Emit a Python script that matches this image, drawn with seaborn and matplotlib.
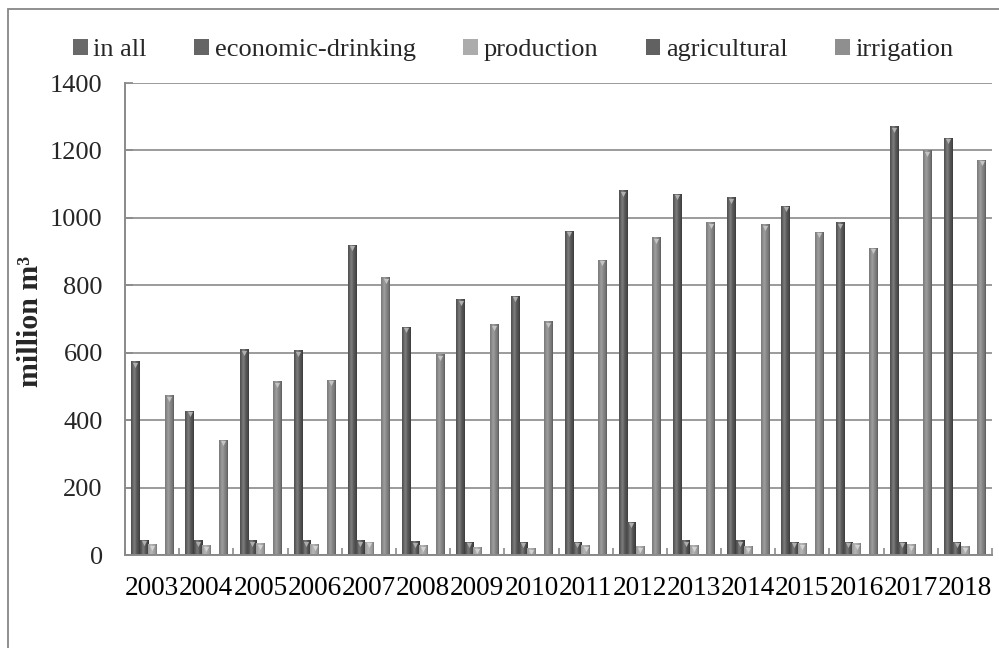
import numpy as np
import pandas as pd
import matplotlib
matplotlib.use("Agg")
import matplotlib.pyplot as plt
from matplotlib.patches import Patch, Rectangle
from matplotlib.colors import to_rgb
from matplotlib.ticker import FixedLocator
import seaborn as sns

# ---- data (million m3 per year) ----
years = ["2003", "2004", "2005", "2006", "2007", "2008", "2009", "2010",
         "2011", "2012", "2013", "2014", "2015", "2016", "2017", "2018"]
in_all = [574, 427, 609, 606, 919, 675, 757, 767, 960, 1080, 1070, 1060, 1035, 986, 1271, 1236]
economic_drinking = [44, 42, 42, 42, 42, 39, 38, 38, 38, 97, 42, 42, 38, 38, 38, 38]
production = [30, 27, 34, 30, 38, 27, 21, 19, 28, 24, 27, 25, 34, 34, 30, 25]
agricultural = [2, 2, 2, 2, 2, 2, 2, 2, 2, 2, 2, 2, 2, 2, 2, 2]
irrigation = [472, 340, 514, 518, 822, 594, 683, 692, 874, 941, 986, 980, 958, 910, 1199, 1171]

series_names = ["in all", "economic-drinking", "production", "agricultural", "irrigation"]
series_values = [in_all, economic_drinking, production, agricultural, irrigation]
y_ticks = [0, 200, 400, 600, 800, 1000, 1200, 1400]

colors = {
    "in all": "#4f4f4f",
    "economic-drinking": "#4a4a4a",
    "production": "#9d9d9d",
    "agricultural": "#454545",
    "irrigation": "#7b7b7b",
}

df = pd.DataFrame({
    "year": np.repeat([years], len(series_names), axis=0).ravel(),
    "series": np.repeat(series_names, len(years)),
    "value": np.concatenate([np.asarray(v, dtype=float) for v in series_values]),
})

sns.set_theme(style="white")
plt.rcParams["font.family"] = ["Liberation Serif", "DejaVu Serif"]
plt.rcParams["font.size"] = 19

W, H = 999, 648
fig = plt.figure(figsize=(W / 100, H / 100), dpi=100)
ax = fig.add_axes([125 / W, 1 - 555 / H, (992 - 125) / W, (555 - 83) / H])

sns.barplot(data=df, x="year", y="value", hue="series", hue_order=series_names,
            order=years, palette=colors, width=0.77, gap=0, saturation=1,
            errorbar=None, linewidth=0, legend=False, ax=ax)


def lighten(base, k):
    return np.clip(base + (1 - base) * k, 0, 1)


# cylinder-like shading on every bar
prof_x = np.linspace(0, 1, 40)
shade = 0.55 * np.exp(-((prof_x - 0.38) / 0.22) ** 2) - 0.25 * (prof_x > 0.8) * (prof_x - 0.8) / 0.2
bars = [p for p in ax.patches if p.get_height() > 0]
for p in bars:
    x0, w, h = p.get_x(), p.get_width(), p.get_height()
    base = np.array(to_rgb(p.get_facecolor()))
    cols = [lighten(base, s * 0.45) if s >= 0 else base * (1 + s) for s in shade]
    img = np.clip(np.array(cols), 0, 1)[None, :, :]
    ax.imshow(img, extent=[x0, x0 + w, 0, h], aspect="auto",
              interpolation="bilinear", zorder=p.get_zorder() + 0.1)
    if h > 15:
        ax.scatter([x0 + w / 2], [h - 9], marker="v", s=14,
                   color=lighten(base, 0.55), linewidths=0,
                   zorder=p.get_zorder() + 0.2)

ax.set_xlim(-0.5, len(years) - 0.5)
ax.set_ylim(0, 1400)
ax.set_yticks(y_ticks)
ax.set_yticklabels([str(t) for t in y_ticks])

grid_col = "#8a8a8a"
ax.yaxis.grid(True, color=grid_col, linewidth=1.2)
ax.xaxis.grid(False)
ax.set_axisbelow(True)
for side in ["top", "right"]:
    ax.spines[side].set_visible(False)
for side in ["left", "bottom"]:
    ax.spines[side].set_color(grid_col)
    ax.spines[side].set_linewidth(1.4)

ax.xaxis.set_minor_locator(FixedLocator(np.arange(-0.5, len(years), 1.0)))
ax.tick_params(axis="x", which="major", length=0, pad=15, labelsize=19.6, colors="black")
ax.tick_params(axis="x", which="minor", direction="in", length=5, width=1.2, color=grid_col, bottom=True)
ax.tick_params(axis="y", which="major", direction="in", length=6, width=1.2, color=grid_col,
               pad=16, labelsize=19, left=True)

ax.set_xlabel("")
ax.set_ylabel("million m³", fontsize=21.5, fontweight="bold", va="center")
ax.yaxis.set_label_coords((30 - 125) / (992 - 125), 0.495)

handles = [Patch(facecolor=lighten(np.array(to_rgb(colors[n])), 0.15), edgecolor="none", label=n)
           for n in series_names]
fig.legend(handles=handles, loc="center left", bbox_to_anchor=(73 / W, 1 - 50 / H),
           ncol=5, frameon=False, fontsize=19, handlelength=0.55, handleheight=0.55,
           handletextpad=0.22, columnspacing=1.8, borderpad=0, borderaxespad=0)

# outer chart frame
fig.add_artist(Rectangle((7.5 / W, -0.05), 1.2, 1.05 - 9.5 / H, transform=fig.transFigure,
                         fill=False, edgecolor="#878787", linewidth=1.3))

fig.savefig("out.png", dpi=100)
